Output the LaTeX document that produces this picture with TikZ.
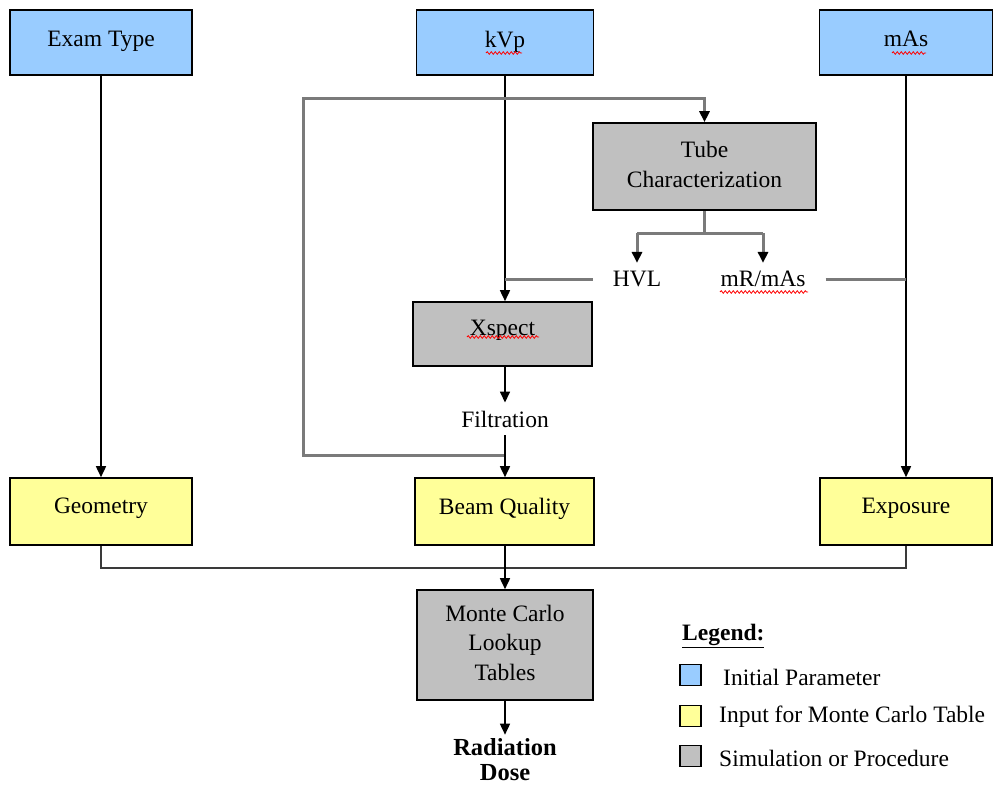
\documentclass[tikz,border=0pt]{standalone}
\usepackage{fontspec}
\setmainfont{Liberation Serif}
\usetikzlibrary{arrows.meta,decorations.pathmorphing}
\definecolor{pblue}{HTML}{99CCFF}
\definecolor{pyellow}{HTML}{FFFF99}
\definecolor{pgray}{HTML}{C0C0C0}
\definecolor{lgray}{HTML}{7A7A7A}
\definecolor{dgray}{HTML}{3A3A3A}
\newcommand{\mystack}[2]{\raisebox{#1}{\begin{tabular}{@{}c@{}}#2\end{tabular}}}
\begin{document}
\begin{tikzpicture}[x=1pt,y=-1pt,
  font=\fontsize{23.5}{29.5}\selectfont,
  boxbase/.style={draw=black,line width=1.6pt,inner sep=0pt,align=center},
  param/.style={boxbase,fill=pblue,minimum width=182pt,minimum height=65pt},
  mcin/.style={boxbase,fill=pyellow,minimum width=180pt,minimum height=67pt},
  proc/.style={boxbase,fill=pgray},
  lbl/.style={inner xsep=20pt,inner ysep=8pt},
  bline/.style={draw=black,line width=1.6pt},
  gline/.style={draw=lgray,line width=3pt},
  mline/.style={draw=dgray,line width=2pt},
  tip/.style={-{Triangle[length=11pt,width=10pt,color=black]}},
  squig/.style={draw=red,line width=0.8pt,decorate,decoration={snake,amplitude=1.3pt,segment length=4pt}},
  legbox/.style={draw=black,line width=1.5pt,minimum width=21pt,minimum height=21pt,inner sep=0pt}
]
\useasboundingbox (0,0) rectangle (998,787);

% top parameters
\node[param] (exam) at (101,42.5) {\raisebox{7pt}{Exam Type}};
\node[param,minimum width=177pt] (kvp) at (505,42.5) {\raisebox{7pt}{kVp}};
\node[param,minimum width=173pt] (mas) at (906,42.5) {\raisebox{7pt}{mAs}};

% procedures
\node[proc,minimum width=223pt,minimum height=87pt] (tube) at (704.5,166.5) {\mystack{5pt}{Tube\\Characterization}};
\node[proc,minimum width=179pt,minimum height=64pt] (xspect) at (502.5,334) {\raisebox{12pt}{Xspect}};
\node[lbl] (hvl) at (637,279) {HVL};
\node[lbl] (mr) at (763,279) {mR/mAs};
\node[inner sep=8pt] (filt) at (505,419) {Filtration};

% inputs for Monte Carlo
\node[mcin,minimum width=182pt] (geom) at (101,511.5) {\raisebox{11pt}{Geometry}};
\node[mcin,minimum width=179pt] (beam) at (504.5,511.5) {\raisebox{11pt}{Beam Quality}};
\node[mcin,minimum width=172pt] (expo) at (906,511.5) {\raisebox{11pt}{Exposure}};

\node[proc,minimum width=176pt,minimum height=110pt] (mc) at (505,645) {\mystack{4pt}{Monte Carlo\\Lookup\\Tables}};
\node[font=\fontsize{24.5}{25}\selectfont\bfseries,align=center,inner sep=4pt] (dose) at (505,760) {Radiation\\Dose};

% connectors
\draw[bline,tip] (exam.south) -- (geom.north);
\draw[bline,tip] (mas.south) -- (expo.north);
\draw[bline,tip] (kvp.south) -- (kvp.south |- xspect.north);

\coordinate (jn) at (505,455);
\coordinate (lt) at (303,98);
\draw[gline,tip] (jn) -| (lt) -| (tube.north);

\coordinate (tb) at (704.5,233);
\draw[gline] (tube.south) -- (tb);
\draw[gline] (hvl.north |- tb) -- (mr.north |- tb);
\draw[gline,tip] (hvl.north |- tb) -- (hvl.north);
\draw[gline,tip] (mr.north |- tb) -- (mr.north);
\draw[gline] (hvl.west) -- (hvl.west -| kvp.south);
\draw[gline] (mr.east) -- (mr.east -| mas.south);

\draw[bline,tip] (xspect.south -| filt.north) -- (filt.north);
\draw[bline,tip] (filt.south) -- (filt.south |- beam.north);

\coordinate (mg) at (505,568);
\draw[mline] (geom.south) |- (mg) -| (expo.south);
\draw[bline,tip] (beam.south) -- (beam.south -| mc.north) -- (mc.north);
\draw[bline,tip] (mc.south) -- (dose.north);

% spell-check marks
\draw[squig] (486,53) -- (522,53);
\draw[squig] (892,53) -- (926,53);
\draw[squig] (467,337) -- (539,337);
\draw[squig] (720,292) -- (808,292);

% legend
\node[anchor=west,font=\fontsize{23.5}{29}\selectfont\bfseries,inner sep=0pt] (legt) at (682,636) {\underline{Legend:}};
\node[legbox,fill=pblue] (l1) at (690.5,675) {};
\node[legbox,fill=pyellow] (l2) at (690.5,716) {};
\node[legbox,fill=pgray] (l3) at (690.5,756) {};
\node[anchor=west,inner sep=0pt] (t1) at (723,677) {Initial Parameter};
\node[anchor=west,inner sep=0pt] (t2) at (719,717) {Input for Monte Carlo Table};
\node[anchor=west,inner sep=0pt] (t3) at (719,758) {Simulation or Procedure};
\end{tikzpicture}
\end{document}
